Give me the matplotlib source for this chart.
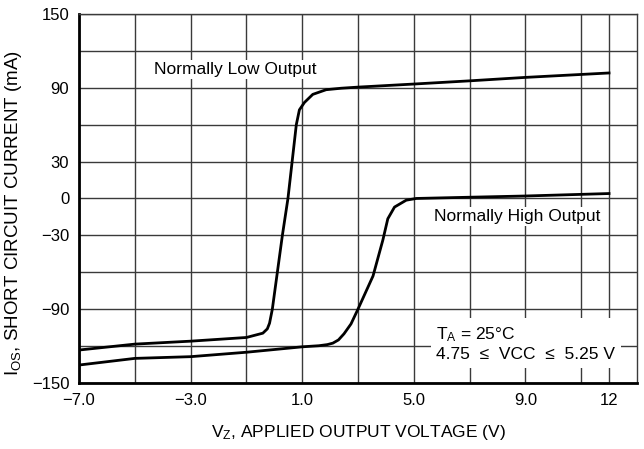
import matplotlib

matplotlib.use("Agg")
import matplotlib.pyplot as plt

plt.rcParams["font.family"] = ["Liberation Sans", "DejaVu Sans"]
plt.rcParams["mathtext.fontset"] = "custom"
plt.rcParams["mathtext.rm"] = "Liberation Sans"
plt.rcParams["mathtext.it"] = "Liberation Sans:italic"

# Normally Low Output curve (V, mA)
vz_low = [-7, -5, -3, -1, -0.41, -0.25, -0.17, -0.07, 0.11, 0.29, 0.49, 0.64,
          0.79, 0.9, 1.08, 1.38, 1.86, 2.4, 3.0, 5.0, 7.0, 9.0, 12.0]
ios_low = [-123.2, -118.4, -116, -113, -109.5, -106, -101.4, -90, -60, -30, 0, 30,
           60, 72, 78, 84.6, 88.4, 89.6, 90.5, 93, 95.6, 98.4, 102]

# Normally High Output curve (V, mA)
vz_high = [-7, -5, -3, -1, 1, 1.6, 1.9, 2.1, 2.3, 2.5, 2.75, 3.0, 3.54, 3.89,
           4.07, 4.31, 4.73, 5.09, 7.0, 9.0, 12.0]
ios_high = [-135.4, -130, -128.6, -125, -120.6, -119.7, -118.8, -117.6, -115,
            -110, -102, -90, -63, -34, -16.5, -7, -1.4, 0, 1, 2, 4]

x_grid = [-7, -5, -3, -1, 1, 3, 5, 7, 9, 11, 12]
x_ticks = [-7, -3, 1, 5, 9, 12]
x_labels = ["\u22127.0", "\u22123.0", "1.0", "5.0", "9.0", "12"]
y_grid = [-150, -120, -90, -60, -30, 0, 30, 60, 90, 120, 150]
y_ticks = [-150, -90, -30, 0, 30, 90, 150]
y_labels = ["\u2212150", "\u221290", "\u221230", "0", "30", "90", "150"]

fig = plt.figure(figsize=(6.44, 4.49), dpi=100)
ax = fig.add_axes([0.1227, 0.147, 0.8663, 0.822])

grid_c = "#3a3a3a"
for gx in x_grid:
    ax.axvline(gx, color=grid_c, lw=1.0, zorder=1)
for gy in y_grid:
    ax.axhline(gy, color=grid_c, lw=1.0, zorder=1)

ax.plot(vz_low, ios_low, color="black", lw=2.0, zorder=3)
ax.plot(vz_high, ios_high, color="black", lw=2.0, zorder=3)

ax.set_xlim(-7, 13)
ax.set_ylim(-150, 150)
ax.set_xticks(x_ticks)
ax.set_xticklabels(x_labels)
ax.set_yticks(y_ticks)
ax.set_yticklabels(y_labels)
ax.tick_params(length=0, labelsize=12, pad=7)

for side in ["top", "right"]:
    ax.spines[side].set_color(grid_c)
    ax.spines[side].set_linewidth(1.0)
for side in ["left", "bottom"]:
    ax.spines[side].set_color("black")
    ax.spines[side].set_linewidth(2.0)

ax.set_xlabel(r"V$_\mathrm{Z}$, APPLIED OUTPUT VOLTAGE (V)", fontsize=12.5, labelpad=11)
ax.set_ylabel(r"I$_\mathrm{OS}$, SHORT CIRCUIT CURRENT (mA)", fontsize=13.5)
ax.yaxis.set_label_coords(-0.099, 0.461)

box = dict(facecolor="white", edgecolor="none", pad=1.5)
ax.text(-4.3, 105, "Normally Low Output", fontsize=12.5, va="center", ha="left",
        bbox=box, zorder=2)
ax.text(5.72, -14.6, "Normally High Output", fontsize=12.5, va="center", ha="left",
        bbox=box, zorder=2)
ax.text(5.8, -118, "T$_\\mathrm{A}$ = 25\u00b0C\n4.75  \u2264  VCC  \u2264  5.25 V",
        fontsize=12.5, va="center", ha="left", linespacing=1.3,
        bbox=dict(facecolor="white", edgecolor="none", pad=4), zorder=2)

fig.savefig("out.png", dpi=100)
